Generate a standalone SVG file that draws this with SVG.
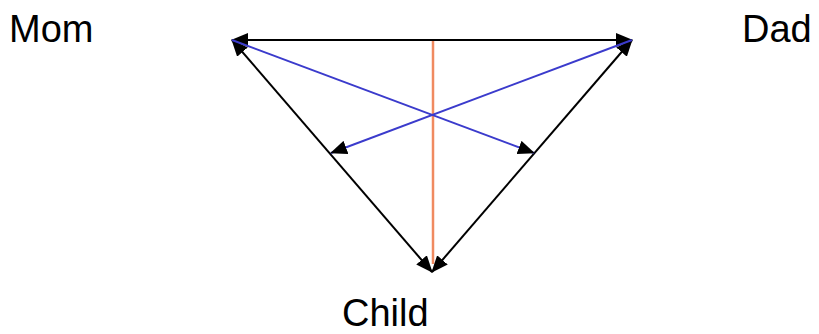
<svg xmlns="http://www.w3.org/2000/svg" width="819" height="334" viewBox="0 0 819 334">
<style>
text{font-family:"Liberation Sans",Arial,sans-serif;font-size:38px;fill:#000}
.e{stroke:#000;stroke-width:2;fill:none}
.b{stroke:#3b3bcc;stroke-width:2;fill:none}
</style>
<defs>
<marker id="ah" markerUnits="userSpaceOnUse" markerWidth="18" markerHeight="14" refX="16" refY="7" orient="auto-start-reverse" viewBox="0 0 18 14">
<path d="M0,0 L17,7 L0,14 z" fill="#000"/>
</marker>
</defs>
<rect width="819" height="334" fill="#fff"/>
<g id="mom"><text x="9" y="42">Mom</text></g>
<g id="dad"><text x="742" y="42">Dad</text></g>
<g id="child"><text x="342" y="326">Child</text></g>
<g id="connectors">
<line x1="433" y1="40" x2="433" y2="264" stroke="#f08a60" stroke-width="2.5"/>
<line class="e" x1="232" y1="40" x2="632" y2="40" stroke="#444" marker-start="url(#ah)" marker-end="url(#ah)"/>
<line class="e" x1="232" y1="40" x2="432" y2="272" marker-start="url(#ah)" marker-end="url(#ah)"/>
<line class="e" x1="632" y1="40" x2="432" y2="272" marker-start="url(#ah)" marker-end="url(#ah)"/>
<line class="b" x1="232" y1="40" x2="534" y2="153" marker-end="url(#ah)"/>
<line class="b" x1="632" y1="40" x2="331" y2="153" marker-end="url(#ah)"/>
</g>
</svg>
